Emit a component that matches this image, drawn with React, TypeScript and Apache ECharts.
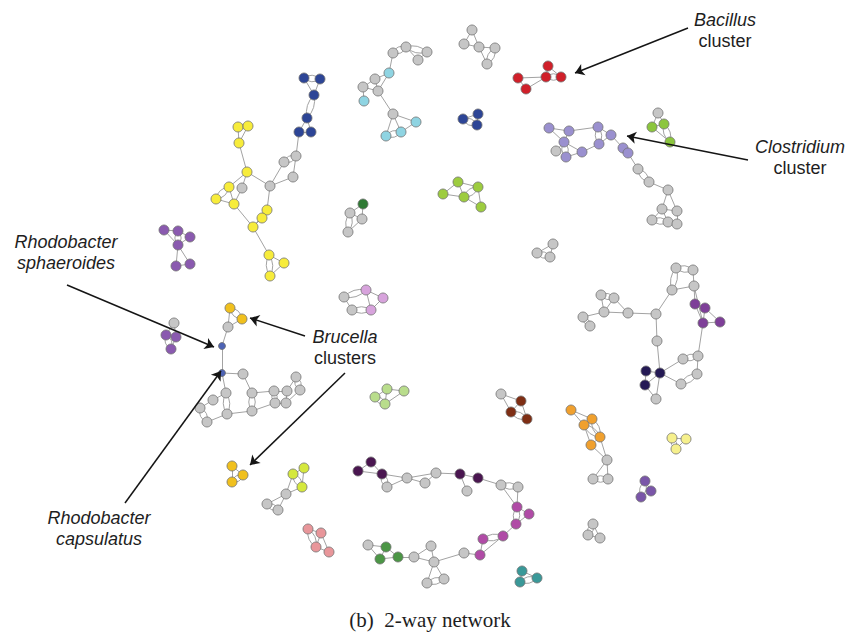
import React, { useEffect, useRef } from "react";
import * as echarts from "echarts";

type N = [number, number, string];
type E = number[];

const palette: Record<string, string> = {
  g: "#c6c6c6", y: "#f7ec3b", nv: "#2d4596", lb: "#8fd4e2", r: "#d0202a",
  lav: "#9a90cf", gr: "#8cc63e", lm: "#9dcc3f", dg: "#2f7a34", pl: "#d7a3dc",
  pu: "#7e3f98", nvd: "#251a55", rp: "#8a5aaf", by: "#f0c01e", rb: "#4d63b5",
  lg: "#b9dd8c", br: "#7e2e14", or: "#f0a02e", py: "#f6f08c", ly: "#d5e83d",
  dp: "#4a1650", m: "#b04ba6", gn: "#4c9646", ps: "#e8969a", sp: "#7a56a8", tl: "#3a9898",
};

const yellowBlueNodes: N[] = [
  [304, 78, "nv"], [320, 79, "nv"], [314, 95, "nv"], [307, 118, "nv"], [299, 132, "nv"], [311, 132, "nv"],
  [296, 156, "g"], [284, 162, "g"], [293, 177, "g"], [270, 186, "g"],
  [238, 127, "y"], [248, 126, "y"], [239, 143, "y"], [247, 172, "y"], [229, 187, "y"], [242, 188, "g"],
  [216, 199, "y"], [234, 204, "y"], [267, 210, "y"], [262, 218, "y"], [253, 227, "y"],
  [269, 255, "y"], [284, 263, "y"], [270, 276, "y"],
];
const yellowBlueEdges: E[] = [
  [0, 1, 2], [0, 2], [1, 2], [2, 3, 2], [3, 4], [3, 5], [4, 5], [4, 6], [6, 7, 2], [6, 8], [7, 9], [8, 9],
  [9, 13], [9, 18], [10, 11, 2], [10, 12], [11, 12], [12, 13], [13, 14], [13, 15], [14, 16, 2], [14, 17],
  [16, 17], [15, 17], [17, 20], [18, 19], [19, 20], [18, 20], [20, 21], [21, 22], [21, 23, 2], [22, 23],
];

const lightBlueNodes: N[] = [
  [393, 53, "g"], [406, 47, "g"], [427, 52, "g"], [418, 60, "g"], [389, 73, "lb"], [375, 79, "g"],
  [363, 87, "g"], [378, 91, "g"], [364, 101, "lb"], [393, 114, "g"], [416, 122, "lb"], [386, 136, "lb"], [401, 132, "lb"],
];
const lightBlueEdges: E[] = [
  [0, 1, 2], [1, 2, 2], [1, 3], [2, 3], [0, 4], [4, 5], [4, 7], [5, 6], [5, 7], [6, 7], [6, 8],
  [7, 9], [9, 10], [9, 11], [9, 12], [10, 12], [11, 12, 2],
];

const grayTopNodes: N[] = [[472, 30, "g"], [464, 44, "g"], [479, 47, "g"], [495, 48, "g"], [487, 64, "g"]];
const grayTopEdges: E[] = [[0, 1], [0, 2], [1, 2], [2, 3], [2, 4], [3, 4, 2]];

const bacillusNodes: N[] = [[518, 78, "r"], [526, 89, "r"], [548, 66, "r"], [546, 77, "r"], [561, 77, "r"]];
const bacillusEdges: E[] = [[0, 1], [0, 3], [1, 3], [2, 3], [2, 4], [3, 4, 2]];

const navySmallNodes: N[] = [[463, 119, "nv"], [478, 114, "nv"], [477, 125, "nv"]];
const navySmallEdges: E[] = [[0, 1], [0, 2, 2], [1, 2]];

const clostridiumNodes: N[] = [
  [549, 128, "lav"], [569, 131, "lav"], [598, 127, "lav"], [611, 135, "lav"], [564, 142, "lav"],
  [582, 152, "lav"], [599, 144, "lav"], [566, 157, "lav"], [556, 151, "g"], [623, 148, "lav"], [628, 153, "lav"],
  [638, 169, "g"], [649, 182, "g"], [668, 190, "g"], [677, 211, "g"], [662, 209, "g"], [652, 220, "g"],
  [668, 222, "g"], [677, 224, "g"],
];
const clostridiumEdges: E[] = [
  [0, 1], [0, 4], [1, 2], [1, 4], [2, 3], [2, 6, 2], [4, 5], [4, 7, 2], [5, 6], [5, 7], [8, 4], [3, 9],
  [9, 10], [3, 6], [10, 11], [11, 12, 2], [12, 13], [13, 14], [13, 15], [15, 14], [15, 16], [16, 17, 2],
  [17, 18], [14, 18], [15, 17],
];

const greenTRNodes: N[] = [[658, 113, "g"], [652, 127, "gr"], [664, 124, "gr"], [670, 142, "gr"]];
const greenTREdges: E[] = [[0, 1], [0, 2], [1, 2], [1, 3], [2, 3, 2]];

const limeNodes: N[] = [[458, 182, "lm"], [443, 194, "lm"], [464, 197, "lm"], [478, 187, "lm"], [481, 207, "lm"]];
const limeEdges: E[] = [[1, 0], [1, 2], [0, 2], [0, 3], [2, 3, 2], [3, 4], [2, 4]];

const darkGreenNodes: N[] = [[363, 204, "dg"], [350, 213, "g"], [362, 219, "g"], [348, 232, "g"]];
const darkGreenEdges: E[] = [[0, 1], [0, 2], [1, 2], [1, 3, 2], [2, 3]];

const graySmallANodes: N[] = [[553, 244, "g"], [537, 253, "g"], [550, 257, "g"]];
const graySmallAEdges: E[] = [[0, 1], [0, 2], [1, 2, 2]];

const rhodoTopNodes: N[] = [[164, 230, "rp"], [178, 231, "rp"], [190, 237, "rp"], [178, 245, "rp"], [176, 266, "rp"], [190, 264, "rp"]];
const rhodoTopEdges: E[] = [[0, 1], [0, 3], [1, 2], [1, 3, 2], [2, 3], [3, 4], [3, 5], [4, 5]];

const lilacNodes: N[] = [[344, 297, "g"], [366, 290, "pl"], [383, 298, "pl"], [352, 310, "g"], [371, 310, "pl"]];
const lilacEdges: E[] = [[0, 1, 2], [0, 3], [1, 2], [1, 4], [2, 4], [3, 4, 2]];

const bigRightNodes: N[] = [
  [676, 268, "g"], [693, 270, "g"], [672, 290, "g"], [694, 286, "g"], [695, 304, "pu"], [705, 308, "pu"],
  [703, 323, "pu"], [720, 322, "pu"], [601, 295, "g"], [614, 298, "g"], [604, 312, "g"], [583, 317, "g"],
  [590, 326, "g"], [628, 313, "g"], [656, 314, "g"], [657, 341, "g"], [660, 373, "nvd"], [646, 371, "nvd"],
  [645, 385, "nvd"], [656, 399, "g"], [683, 359, "g"], [698, 356, "g"], [697, 374, "g"], [681, 384, "g"],
];
const bigRightEdges: E[] = [
  [0, 1, 2], [0, 2, 2], [2, 3], [1, 3], [3, 4], [3, 6], [4, 5], [4, 6], [5, 6], [6, 7], [5, 7], [6, 21],
  [21, 20, 2], [21, 22], [22, 23, 2], [20, 16], [23, 16], [14, 2], [14, 13], [14, 15], [15, 16], [13, 10],
  [13, 9], [8, 9, 2], [8, 10], [9, 10], [10, 11], [11, 12, 2], [16, 17], [16, 18], [17, 18], [16, 19], [18, 19],
];

const rhodoSmallNodes: N[] = [[174, 323, "g"], [166, 335, "rp"], [176, 337, "rp"], [171, 349, "rp"]];
const rhodoSmallEdges: E[] = [[0, 1], [0, 2], [1, 2], [1, 3, 2], [2, 3]];

const brucellaRhodoNodes: N[] = [
  [230, 308, "by"], [242, 319, "by"], [228, 327, "g"], [222, 346, "rb"], [222, 373, "rb"], [243, 374, "g"],
  [226, 393, "g"], [213, 400, "g"], [200, 408, "g"], [207, 422, "g"], [227, 414, "g"], [252, 393, "g"],
  [252, 411, "g"], [274, 391, "g"], [275, 403, "g"], [286, 403, "g"], [296, 377, "g"], [300, 390, "g"], [287, 391, "g"],
];
const brucellaRhodoEdges: E[] = [
  [0, 1, 2], [0, 2], [1, 2], [2, 3], [3, 4], [4, 5], [4, 6], [5, 11], [6, 10, 2], [6, 7], [7, 8], [8, 9, 2],
  [9, 10], [10, 12], [11, 12, 2], [12, 14], [11, 13], [13, 14, 2], [14, 15], [13, 18], [18, 16], [16, 17, 2],
  [15, 17], [18, 15],
];

const lightGreenNodes: N[] = [[387, 389, "lg"], [404, 391, "lg"], [375, 397, "lg"], [385, 404, "lg"]];
const lightGreenEdges: E[] = [[0, 1], [0, 2], [2, 3, 2], [0, 3], [1, 3]];

const brownNodes: N[] = [[501, 394, "g"], [521, 401, "br"], [511, 412, "br"], [527, 419, "br"]];
const brownEdges: E[] = [[0, 1], [0, 2], [1, 2], [1, 3], [2, 3, 2]];

const orangeNodes: N[] = [
  [571, 410, "or"], [592, 419, "or"], [584, 425, "or"], [600, 437, "or"], [591, 445, "or"],
  [607, 460, "g"], [593, 479, "g"], [608, 479, "g"],
];
const orangeEdges: E[] = [[0, 1], [0, 2], [1, 2], [1, 3, 2], [2, 3, 2], [2, 4], [3, 4], [3, 5], [4, 5], [5, 6], [5, 7], [6, 7, 2]];

const paleYellowNodes: N[] = [[672, 438, "py"], [686, 439, "py"], [676, 449, "py"]];
const paleYellowEdges: E[] = [[0, 1], [0, 2, 2], [1, 2]];

const brucellaLowNodes: N[] = [[232, 466, "by"], [243, 475, "by"], [232, 482, "by"]];
const brucellaLowEdges: E[] = [[0, 1], [0, 2], [1, 2, 2]];

const limeYellowNodes: N[] = [[293, 474, "ly"], [304, 468, "ly"], [302, 487, "ly"], [286, 494, "g"], [267, 504, "g"], [278, 510, "g"]];
const limeYellowEdges: E[] = [[0, 1], [0, 2, 2], [1, 2], [0, 3], [2, 3], [3, 4], [3, 5], [4, 5, 2]];

const chainNodes: N[] = [
  [371, 462, "dp"], [358, 471, "dp"], [382, 474, "dp"], [387, 487, "g"], [407, 478, "g"], [425, 483, "g"],
  [436, 473, "g"], [460, 474, "dp"], [478, 478, "dp"], [467, 491, "g"], [501, 485, "g"], [518, 487, "g"],
  [517, 507, "m"], [529, 514, "m"], [516, 524, "m"], [503, 536, "m"], [483, 539, "m"], [480, 555, "m"],
  [464, 553, "g"], [434, 562, "g"], [431, 546, "g"], [414, 557, "g"], [427, 583, "g"], [444, 579, "g"],
  [398, 557, "gn"], [386, 547, "gn"], [380, 559, "gn"], [368, 545, "g"],
];
const chainEdges: E[] = [
  [0, 1], [0, 2], [1, 2], [2, 3, 2], [2, 4], [3, 4], [4, 5], [4, 6], [5, 6], [6, 7], [7, 8], [7, 9], [8, 10],
  [10, 11, 2], [10, 12], [11, 12], [12, 13], [12, 14, 2], [13, 14], [14, 15], [15, 16, 2], [16, 17], [15, 17],
  [17, 18], [18, 19], [19, 20], [19, 21], [20, 21], [19, 22], [19, 23], [22, 23, 2], [21, 24], [24, 25],
  [25, 26], [24, 26], [27, 25], [27, 26],
];

const salmonNodes: N[] = [[308, 529, "ps"], [321, 533, "ps"], [316, 547, "ps"], [329, 552, "ps"]];
const salmonEdges: E[] = [[0, 1], [0, 2, 2], [1, 2], [2, 3], [1, 3]];

const purpleSmallNodes: N[] = [[645, 481, "sp"], [651, 491, "sp"], [641, 497, "sp"]];
const purpleSmallEdges: E[] = [[0, 1], [0, 2, 2], [1, 2]];

const graySmallBNodes: N[] = [[593, 524, "g"], [588, 535, "g"], [600, 538, "g"]];
const graySmallBEdges: E[] = [[0, 1, 2], [0, 2], [1, 2]];

const tealNodes: N[] = [[522, 571, "tl"], [520, 582, "tl"], [537, 578, "tl"]];
const tealEdges: E[] = [[0, 1], [0, 2], [1, 2, 2]];

const clusters: [N[], E[]][] = [
  [yellowBlueNodes, yellowBlueEdges], [lightBlueNodes, lightBlueEdges], [grayTopNodes, grayTopEdges],
  [bacillusNodes, bacillusEdges], [navySmallNodes, navySmallEdges], [clostridiumNodes, clostridiumEdges],
  [greenTRNodes, greenTREdges], [limeNodes, limeEdges], [darkGreenNodes, darkGreenEdges],
  [graySmallANodes, graySmallAEdges], [rhodoTopNodes, rhodoTopEdges], [lilacNodes, lilacEdges],
  [bigRightNodes, bigRightEdges], [rhodoSmallNodes, rhodoSmallEdges], [brucellaRhodoNodes, brucellaRhodoEdges],
  [lightGreenNodes, lightGreenEdges], [brownNodes, brownEdges], [orangeNodes, orangeEdges],
  [paleYellowNodes, paleYellowEdges], [brucellaLowNodes, brucellaLowEdges], [limeYellowNodes, limeYellowEdges],
  [chainNodes, chainEdges], [salmonNodes, salmonEdges], [purpleSmallNodes, purpleSmallEdges],
  [graySmallBNodes, graySmallBEdges], [tealNodes, tealEdges],
];

const arrowLines: number[][] = [
  [688, 28, 575, 73],
  [748, 160, 627, 136],
  [67, 285, 214, 347],
  [305, 336, 250, 318],
  [345, 373, 250, 465],
  [125, 503, 221, 371],
];

const annotationTexts: [string, string, number, number][] = [
  ["Bacillus", "cluster", 725, 20],
  ["Clostridium", "cluster", 800, 147],
  ["Rhodobacter", "sphaeroides", 66, 242],
  ["Brucella", "clusters", 345, 337],
  ["Rhodobacter", "capsulatus", 99, 518],
];
const italicSecond = ["sphaeroides", "capsulatus"];
const caption = "(b)  2-way network";

export default function App() {
  const ref = useRef<HTMLDivElement>(null);
  useEffect(() => {
    if (!ref.current) return;
    const chart = echarts.init(ref.current, undefined, { renderer: "svg" });
    const nodes: any[] = [];
    const links: any[] = [];
    let off = 0;
    for (const [ns, es] of clusters) {
      ns.forEach((n) =>
        nodes.push({
          value: [n[0], n[1]],
          symbolSize: n[2] === "rb" ? 7 : 10,
          itemStyle: { color: palette[n[2]] },
        })
      );
      es.forEach((e) => {
        if (e[2] === 2) {
          const a = ns[e[0]], b = ns[e[1]];
          const len = Math.hypot(a[0] - b[0], a[1] - b[1]) || 1;
          const c = Math.min(0.45, 6.5 / len);
          links.push({ source: off + e[0], target: off + e[1], lineStyle: { curveness: c } });
          links.push({ source: off + e[0], target: off + e[1], lineStyle: { curveness: -c } });
        } else {
          links.push({ source: off + e[0], target: off + e[1], lineStyle: { curveness: 0 } });
        }
      });
      off += ns.length;
    }
    const graphic: any[] = [];
    annotationTexts.forEach(([a, b, x, y]) => {
      graphic.push({
        type: "text", x, y,
        style: { text: a, fontSize: 18, fontStyle: "italic", fontFamily: "Liberation Sans, Arial, sans-serif", fill: "#1e1e1e", textAlign: "center", textVerticalAlign: "middle" },
      });
      graphic.push({
        type: "text", x, y: y + 21,
        style: { text: b, fontSize: 18, fontStyle: italicSecond.includes(b) ? "italic" : "normal", fontFamily: "Liberation Sans, Arial, sans-serif", fill: "#1e1e1e", textAlign: "center", textVerticalAlign: "middle" },
      });
    });
    graphic.push({
      type: "text", x: 430, y: 620,
      style: { text: caption, fontSize: 21, fontFamily: "Liberation Serif, Times New Roman, serif", fill: "#1e1e1e", textAlign: "center", textVerticalAlign: "middle" },
    });
    chart.setOption({
      animation: false,
      backgroundColor: "#ffffff",
      grid: { left: 0, right: 0, top: 0, bottom: 0 },
      xAxis: { type: "value", min: 0, max: 860, show: false },
      yAxis: { type: "value", min: 0, max: 640, inverse: true, show: false },
      graphic,
      series: [
        {
          type: "graph",
          coordinateSystem: "cartesian2d",
          layout: "none",
          silent: true,
          symbol: "circle",
          data: nodes,
          links,
          itemStyle: { borderColor: "#707070", borderWidth: 0.8 },
          lineStyle: { color: "#a3a3a3", width: 1, opacity: 1 },
          label: { show: false },
          emphasis: { disabled: true },
          z: 3,
        },
        {
          type: "lines",
          coordinateSystem: "cartesian2d",
          silent: true,
          symbol: ["none", "arrow"],
          symbolSize: 9,
          lineStyle: { color: "#151515", width: 1.5, opacity: 1 },
          data: arrowLines.map((a) => ({ coords: [[a[0], a[1]], [a[2], a[3]]] })),
          z: 4,
        },
      ],
    });
    return () => chart.dispose();
  }, []);
  return <div ref={ref} style={{ position: "fixed", left: 0, top: 0, width: 860, height: 640 }} />;
}
